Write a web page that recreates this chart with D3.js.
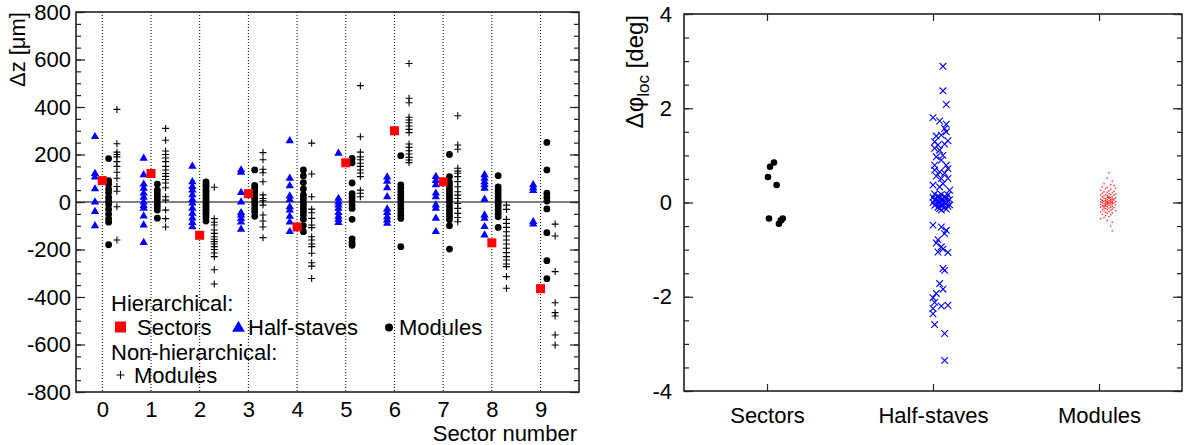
<!DOCTYPE html>
<html>
<head>
<meta charset="utf-8">
<script src="https://cdn.jsdelivr.net/npm/d3@7"></script>
<style>
  body { margin: 0; background: #fff; }
  svg { display: block; font-family: "Liberation Sans", Arial, sans-serif; }
</style>
</head>
<body>
<div id="chart"></div>
<script>
// ---- left panel: delta z per sector (um) ----
const sectorIds = [0, 1, 2, 3, 4, 5, 6, 7, 8, 9];

const sectorsZ = [90, 120, -140, 35, -105, 165, 300, 85, -172, -365];

const halfStavesZ = [
  [275, 120, 105, 55, 0, -40, -100],
  [184, 114, 75, 58, 37, 20, 0, -15, -27, -59, -97, -171],
  [150, 85, 65, 50, 30, 10, -5, -27, -48, -68, -87, -105],
  [135, 125, 40, 0, -45, -55, -70, -85, -115],
  [258, 100, 68, 25, 10, -20, -34, -60, -85, -125],
  [205, 15, 0, -13, -27, -45, -60, -73, -87],
  [105, 87, 60, 22, -30, -45, -62, -76, -90],
  [107, 90, 72, 37, 22, -13, -27, -69, -125],
  [114, 100, 85, 72, 58, 11, -55, -69, -104, -139],
  [72, 60, 48, -83, -93]
];

const modulesZ = [
  [183, 90, 75, 55, 40, 20, 5, -10, -30, -50, -70, -85, -180],
  [75, 50, 35, 22, 8, -6, -20, -34, -68],
  [85, 75, 65, 55, 45, 35, 25, 15, 5, -5, -15, -25, -35, -45, -55, -65, -80],
  [135, 70, 58, 45, 30, 15, 0, -12, -27, -41, -60],
  [135, 110, 82, 55, 30, 15, 0, -13, -27, -41, -55, -73, -100, -125],
  [184, 165, 80, 35, 20, 5, -13, -27, -73, -155, -170, -182],
  [195, 72, 58, 43, 29, 15, 1, -13, -27, -41, -55, -69, -188],
  [200, 107, 85, 72, 55, 40, 28, 15, 0, -15, -30, -45, -60, -75, -100, -198],
  [111, 64, 51, 37, 22, 8, -6, -20, -34, -48, -62, -107],
  [251, 135, 37, 20, 4, -29, -129, -247, -323]
];

const nonHierZ = [
  [390, 245, 210, 200, 190, 170, 150, 125, 100, 65, 45, -20, -160],
  [310, 260, 215, 200, 185, 170, 150, 135, 120, 108, 95, 80, 60, 22, 8, -34, -70, -105],
  [62, -70, -85, -97, -118, -132, -146, -157, -167, -177, -188, -200, -215, -230, -285, -345],
  [208, 178, 138, 123, 85, 30, 15, 5, -13, -55, -80, -105, -150],
  [248, 118, 22, -30, -45, -69, -97, -108, -146, -160, -177, -188, -216, -256, -270, -322],
  [490, 275, 210, 190, 178, 163, 150, 135, 122, 107, 50, 37, 22],
  [583, 437, 418, 357, 345, 334, 320, 306, 292, 244, 230, 216, 202, 188, 177, 166],
  [363, 240, 222, 142, 130, 121, 107, 86, 64, 43, 29, 15, -6, -27, -48, -65, -83],
  [-13, -31, -73, -90, -107, -125, -143, -160, -177, -195, -213, -230, -244, -261, -272, -314, -363],
  [-93, -143, -293, -424, -466, -480, -560, -602]
];

// ---- right panel: delta phi_loc (deg), [offset within category, value] ----
const categories = ["Sectors", "Half-staves", "Modules"];

const sectorsPhi = [
  [0.042, 0.85], [0.018, 0.76], [0.006, 0.54], [0.058, 0.37],
  [0.012, -0.34], [0.072, -0.45], [0.084, -0.38], [0.095, -0.34]
];

const halfStavesPhi = [
  [0.06, 2.89], [0.06, 2.37], [0.08, 2.08], [0.0, 1.80], [0.04, 1.73], [0.08, 1.66], [0.07, 1.57],
  [0.08, 1.50], [0.02, 1.41], [0.05, 1.43], [0.09, 1.31], [0.01, 1.29], [0.03, 1.22], [0.07, 1.24],
  [0.01, 1.15], [0.04, 1.11], [0.06, 1.00], [0.02, 0.97], [0.05, 0.90], [0.01, 0.79], [0.08, 0.79],
  [0.09, 0.72], [0.01, 0.69], [0.04, 0.65], [0.07, 0.62], [0.02, 0.56], [0.05, 0.51], [0.09, 0.51],
  [0.0, 0.37], [0.06, 0.40], [0.10, 0.26], [0.04, 0.33],
  [0.01, 0.18], [0.05, 0.17], [0.09, 0.16], [0.03, 0.14], [0.07, 0.13], [0.00, 0.11], [0.04, 0.10],
  [0.08, 0.09], [0.02, 0.08], [0.06, 0.07], [0.10, 0.06], [0.01, 0.05], [0.05, 0.04], [0.09, 0.03],
  [0.03, 0.02], [0.07, 0.01], [0.00, 0.00], [0.04, -0.01], [0.08, -0.02], [0.02, -0.03], [0.06, -0.04],
  [0.10, -0.05], [0.01, -0.06], [0.05, -0.07], [0.09, -0.08], [0.03, -0.10], [0.07, -0.11], [0.04, -0.13],
  [0.08, -0.14], [0.05, -0.16],
  [0.0, -0.48], [0.05, -0.52], [0.08, -0.59], [0.07, -0.66], [0.03, -0.79], [0.02, -0.86], [0.05, -0.94],
  [0.06, -0.99], [0.03, -1.05], [0.09, -1.06], [0.06, -1.40], [0.07, -1.44], [0.04, -1.72], [0.06, -1.84],
  [0.02, -1.93], [0.0, -2.02], [0.01, -2.12], [0.05, -2.20], [0.09, -2.18], [0.0, -2.25], [0.0, -2.36],
  [0.01, -2.59], [0.07, -2.78], [0.07, -3.35]
];

const modulesPhi = [
  [0.06, 0.63], [0.05, 0.52], [0.08, 0.45], [0.03, 0.40], [0.07, 0.38], [0.09, 0.36], [0.02, 0.33], [0.05, 0.32],
  [0.10, 0.30], [0.04, 0.29], [0.07, 0.28], [0.01, 0.26], [0.06, 0.25], [0.09, 0.24], [0.03, 0.23], [0.05, 0.22],
  [0.08, 0.21], [0.02, 0.20], [0.06, 0.19], [0.10, 0.18], [0.04, 0.17], [0.07, 0.17], [0.01, 0.16], [0.05, 0.15],
  [0.09, 0.15], [0.03, 0.14], [0.06, 0.13], [0.08, 0.12], [0.02, 0.12], [0.05, 0.11], [0.07, 0.10], [0.10, 0.10],
  [0.03, 0.09], [0.06, 0.09], [0.04, 0.08], [0.08, 0.07], [0.01, 0.07], [0.05, 0.06], [0.07, 0.06], [0.09, 0.05],
  [0.02, 0.05], [0.04, 0.04], [0.06, 0.04], [0.08, 0.03], [0.03, 0.03], [0.05, 0.02], [0.07, 0.02], [0.10, 0.02],
  [0.01, 0.01], [0.04, 0.01], [0.06, 0.00], [0.08, 0.00], [0.02, 0.00], [0.05, -0.01], [0.07, -0.01], [0.09, -0.01],
  [0.03, -0.02], [0.06, -0.02], [0.04, -0.03], [0.08, -0.03], [0.01, -0.04], [0.05, -0.04], [0.07, -0.05], [0.10, -0.05],
  [0.03, -0.06], [0.06, -0.06], [0.02, -0.07], [0.04, -0.08], [0.08, -0.08], [0.05, -0.09], [0.07, -0.10], [0.01, -0.10],
  [0.09, -0.11], [0.03, -0.12], [0.06, -0.12], [0.04, -0.13], [0.08, -0.14], [0.02, -0.15], [0.05, -0.15], [0.07, -0.16],
  [0.10, -0.17], [0.03, -0.18], [0.06, -0.19], [0.01, -0.20], [0.04, -0.21], [0.08, -0.22], [0.05, -0.23], [0.02, -0.25],
  [0.07, -0.26], [0.04, -0.28], [0.06, -0.30], [0.03, -0.32], [0.01, -0.34], [0.05, -0.38], [0.08, -0.42], [0.07, -0.50],
  [0.08, -0.60], [0.02, 0.04], [0.09, 0.08], [0.04, -0.05], [0.06, 0.11], [0.03, -0.09], [0.07, 0.03], [0.05, 0.00]
];

const width = 1184, height = 445;
const svg = d3.select("#chart").append("svg")
  .attr("width", width).attr("height", height);

const FS = 22;

// flatten per-sector lists into points
const flat = (arr, off) => arr.flatMap((vals, i) => vals.map(v => ({ x: sectorIds[i] + off, y: v })));

// ================= left panel =================
const L = { x0: 76, x1: 579, y0: 12, y1: 392 };
const xL = d3.scaleLinear().domain([-0.54, 9.79]).range([L.x0, L.x1]);
const yL = d3.scaleLinear().domain([-800, 800]).range([L.y1, L.y0]);

const left = svg.append("g");

// dotted sector lines
left.selectAll("line.sec").data(sectorIds).enter().append("line")
  .attr("x1", d => xL(d)).attr("x2", d => xL(d))
  .attr("y1", L.y0).attr("y2", L.y1)
  .attr("stroke", "#000").attr("stroke-width", 1).attr("stroke-dasharray", "1,2");

// zero line
left.append("line")
  .attr("x1", L.x0).attr("x2", L.x1).attr("y1", yL(0)).attr("y2", yL(0))
  .attr("stroke", "#808080").attr("stroke-width", 2);

function yTicks(g, scale, x0, x1, majors, minors, padding) {
  const major = g.append("g").attr("transform", `translate(${x0},0)`)
    .call(d3.axisLeft(scale).tickValues(majors).tickSize(-9).tickPadding(padding)
      .tickFormat(d => String(d)));
  major.select(".domain").remove();
  major.selectAll("text").style("font-size", FS + "px").attr("fill", "#000");
  const minor = g.append("g").attr("transform", `translate(${x0},0)`)
    .call(d3.axisLeft(scale).tickValues(minors).tickSize(-5).tickFormat(""));
  minor.select(".domain").remove();
  const rMaj = g.append("g").attr("transform", `translate(${x1},0)`)
    .call(d3.axisRight(scale).tickValues(majors).tickSize(-9).tickFormat(""));
  rMaj.select(".domain").remove();
  const rMin = g.append("g").attr("transform", `translate(${x1},0)`)
    .call(d3.axisRight(scale).tickValues(minors).tickSize(-5).tickFormat(""));
  rMin.select(".domain").remove();
  g.selectAll(".tick line").attr("stroke", "#222").attr("stroke-width", 1.2);
}

yTicks(left, yL, L.x0, L.x1, d3.range(-800, 801, 200), d3.range(-800, 801, 50), 5);

// x labels
const xAxL = left.append("g").attr("transform", `translate(0,${L.y1})`)
  .call(d3.axisBottom(xL).tickValues(sectorIds).tickSize(0).tickPadding(9));
xAxL.select(".domain").remove();
xAxL.selectAll("text").style("font-size", FS + "px").attr("fill", "#000");

// frame
left.append("rect")
  .attr("x", L.x0).attr("y", L.y0).attr("width", L.x1 - L.x0).attr("height", L.y1 - L.y0)
  .attr("fill", "none").attr("stroke", "#222").attr("stroke-width", 1.6);

// titles
left.append("text")
  .attr("transform", `translate(25,${L.y0}) rotate(-90)`)
  .attr("text-anchor", "end").style("font-size", "22px")
  .text("Δz [μm]");
left.append("text")
  .attr("x", 577).attr("y", 441).attr("text-anchor", "end")
  .style("font-size", FS + "px").text("Sector number");

// markers
const tri = d3.symbol().type(d3.symbolTriangle);
left.selectAll("path.hs").data(flat(halfStavesZ, -0.15)).enter().append("path")
  .attr("transform", d => `translate(${xL(d.x)},${yL(d.y)})`)
  .attr("d", tri.size(30)()).attr("fill", "#0000ff");

left.selectAll("path.nh").data(flat(nonHierZ, 0.3)).enter().append("path")
  .attr("transform", d => `translate(${xL(d.x)},${yL(d.y)})`)
  .attr("d", "M-3.5,0H3.5M0,-3.5V3.5").attr("stroke", "#000").attr("stroke-width", 1.1)
  .attr("fill", "none");

left.selectAll("circle.mod").data(flat(modulesZ, 0.13)).enter().append("circle")
  .attr("cx", d => xL(d.x)).attr("cy", d => yL(d.y)).attr("r", 3.4).attr("fill", "#000");

left.selectAll("rect.sq").data(sectorsZ.map((v, i) => ({ x: sectorIds[i], y: v }))).enter().append("rect")
  .attr("x", d => xL(d.x) - 4.5).attr("y", d => yL(d.y) - 4.5)
  .attr("width", 9).attr("height", 9).attr("fill", "#ff0000");

// legend
const leg = left.append("g").style("font-size", FS + "px");
leg.append("text").attr("x", 111).attr("y", 311).text("Hierarchical:");
leg.append("rect").attr("x", 115).attr("y", 321.5).attr("width", 11).attr("height", 11).attr("fill", "#ff0000");
leg.append("text").attr("x", 137).attr("y", 335).text("Sectors");
leg.append("path").attr("transform", "translate(238.5,328)").attr("d", tri.size(70)()).attr("fill", "#0000ff");
leg.append("text").attr("x", 248).attr("y", 335).text("Half-staves");
leg.append("circle").attr("cx", 389).attr("cy", 327.5).attr("r", 4).attr("fill", "#000");
leg.append("text").attr("x", 399).attr("y", 335).text("Modules");
leg.append("text").attr("x", 111).attr("y", 360).text("Non-hierarchical:");
leg.append("path").attr("transform", "translate(120.5,375)").attr("d", "M-4,0H4M0,-4V4")
  .attr("stroke", "#000").attr("stroke-width", 1.1);
leg.append("text").attr("x", 134).attr("y", 383).text("Modules");

// ================= right panel =================
const R = { x0: 684, x1: 1182, y0: 14, y1: 391 };
const xR = d3.scaleLinear().domain([0, 3]).range([R.x0, R.x1]);
const yR = d3.scaleLinear().domain([-4, 4]).range([R.y1, R.y0]);
const catPos = categories.map((c, i) => i + 0.5);

const right = svg.append("g");

yTicks(right, yR, R.x0, R.x1, d3.range(-4, 4.01, 2), d3.range(-4, 4.01, 0.5), 12);

const xAxR = right.append("g").attr("transform", `translate(0,${R.y1})`)
  .call(d3.axisBottom(xR).tickValues(catPos).tickSize(-7).tickPadding(16)
    .tickFormat((d, i) => categories[i]));
xAxR.select(".domain").remove();
xAxR.selectAll("text").style("font-size", FS + "px").attr("fill", "#000");
const xTopR = right.append("g").attr("transform", `translate(0,${R.y0})`)
  .call(d3.axisTop(xR).tickValues(catPos).tickSize(-7).tickFormat(""));
xTopR.select(".domain").remove();
right.selectAll(".tick line").attr("stroke", "#222").attr("stroke-width", 1.2);

right.append("rect")
  .attr("x", R.x0).attr("y", R.y0).attr("width", R.x1 - R.x0).attr("height", R.y1 - R.y0)
  .attr("fill", "none").attr("stroke", "#222").attr("stroke-width", 1.6);

const yTitle = right.append("text")
  .attr("transform", `translate(643,15) rotate(-90)`)
  .attr("text-anchor", "end").style("font-size", "24px");
yTitle.append("tspan").text("Δφ");
yTitle.append("tspan").attr("baseline-shift", "-35%").style("font-size", "17px").text("loc");
yTitle.append("tspan").text(" [deg]");

// red modules
right.selectAll("rect.md").data(modulesPhi).enter().append("rect")
  .attr("x", d => xR(2.5 + d[0]) - 0.7).attr("y", d => yR(d[1]) - 0.7)
  .attr("width", 1.4).attr("height", 1.4).attr("fill", "#ff0000").attr("opacity", 0.85);

// blue half-staves
right.selectAll("path.hx").data(halfStavesPhi).enter().append("path")
  .attr("transform", d => `translate(${xR(1.5 + d[0])},${yR(d[1])})`)
  .attr("d", "M-3.3,-3.3L3.3,3.3M-3.3,3.3L3.3,-3.3")
  .attr("stroke", "#0000ff").attr("stroke-width", 1.1).attr("fill", "none");

// black sectors
right.selectAll("circle.sp").data(sectorsPhi).enter().append("circle")
  .attr("cx", d => xR(0.5 + d[0])).attr("cy", d => yR(d[1])).attr("r", 3.3).attr("fill", "#000");
</script>
</body>
</html>
